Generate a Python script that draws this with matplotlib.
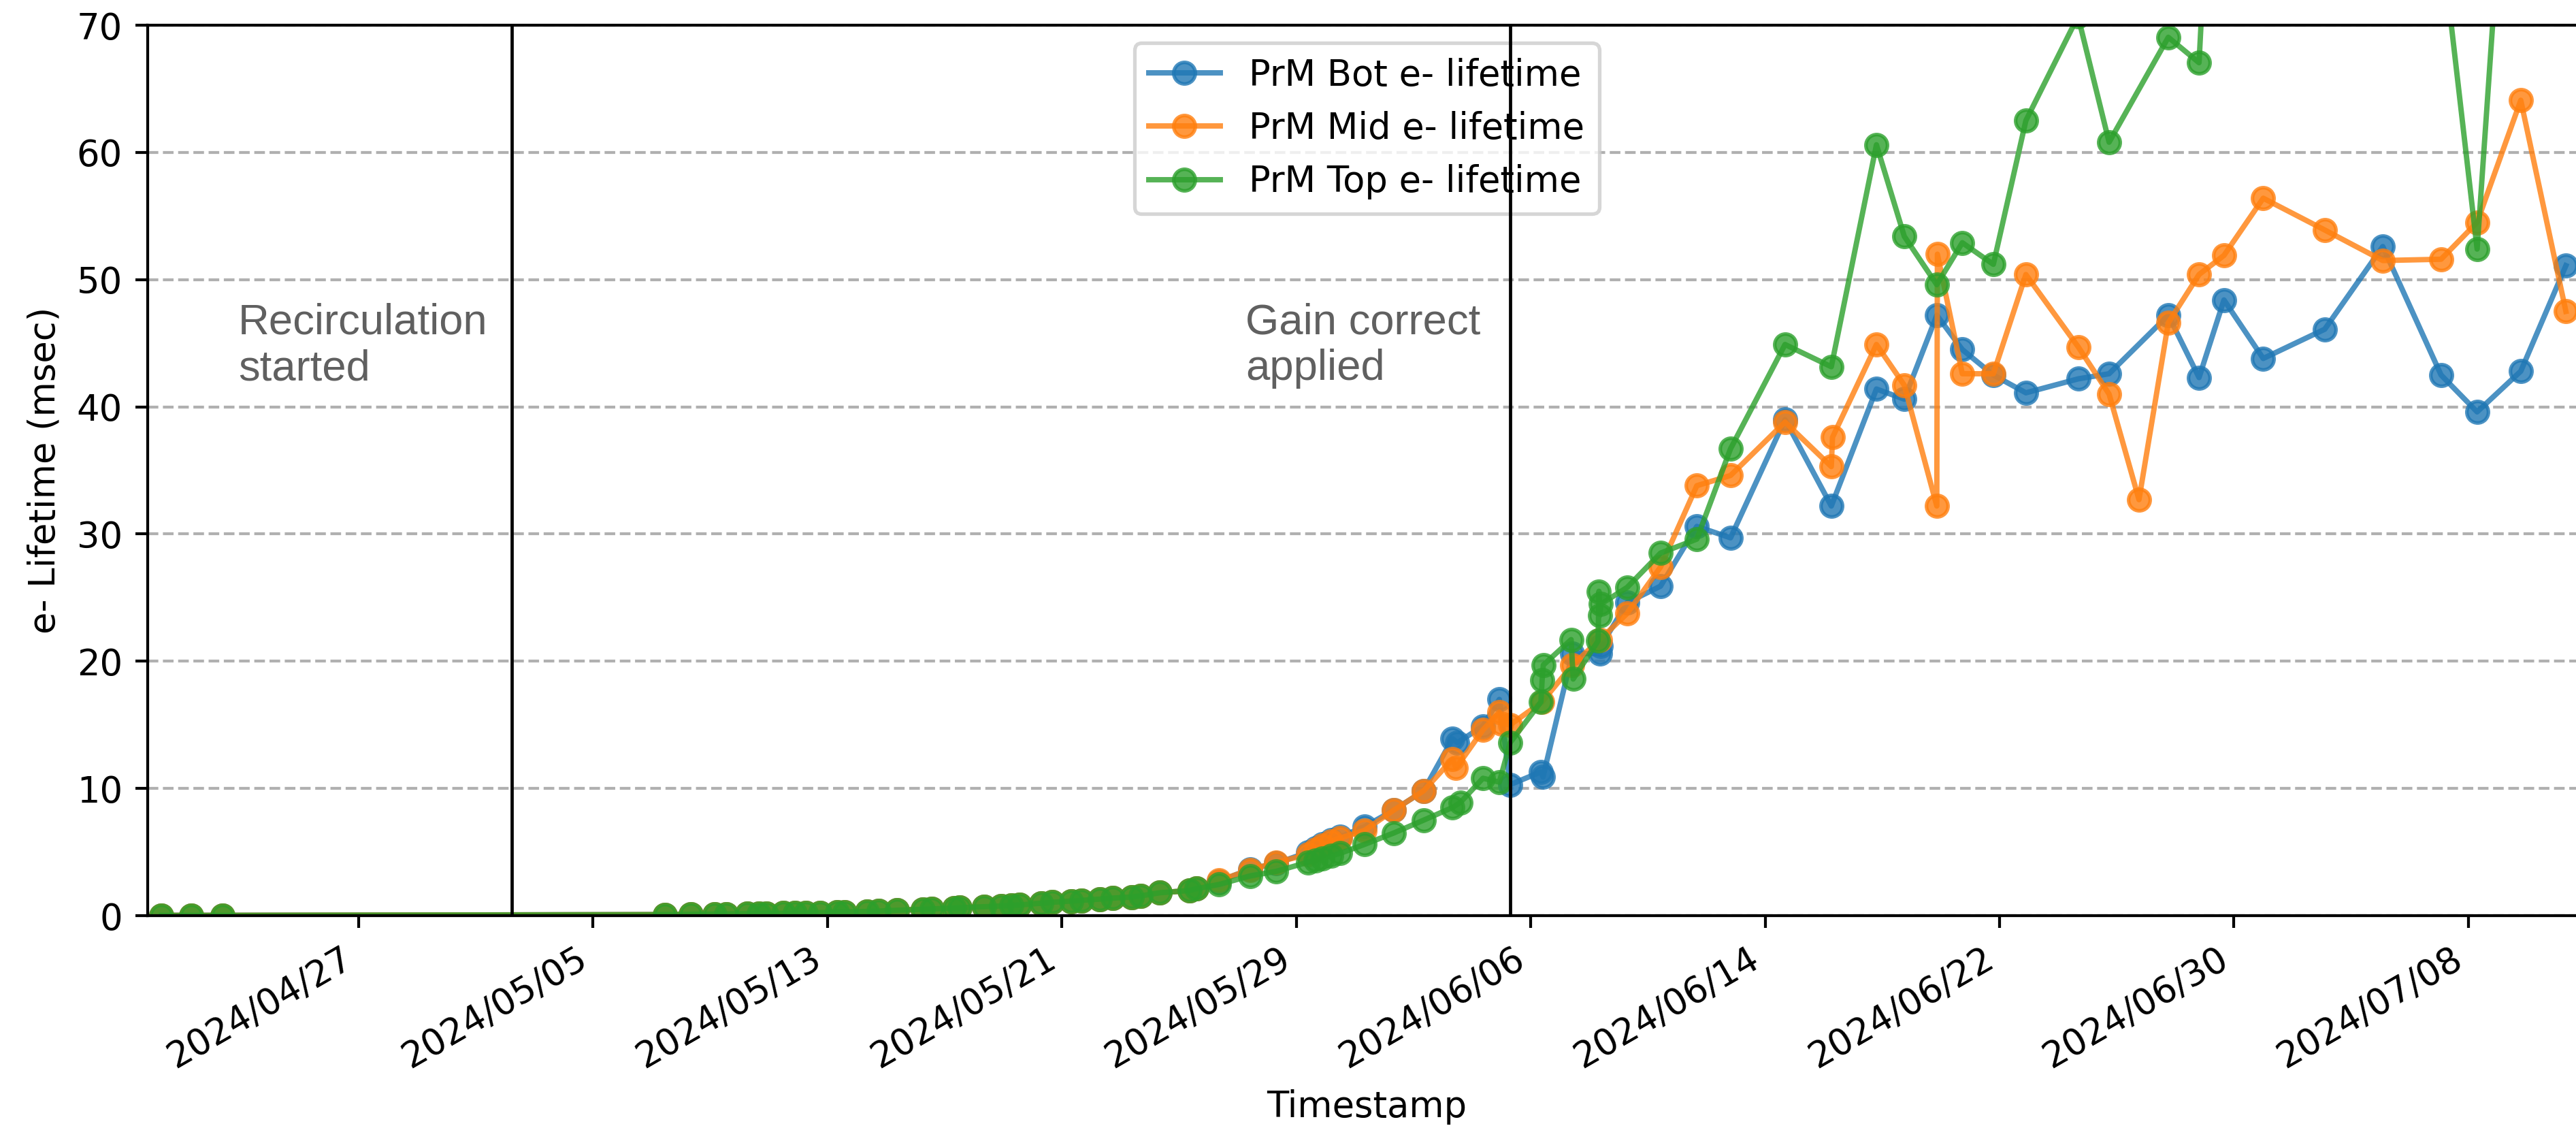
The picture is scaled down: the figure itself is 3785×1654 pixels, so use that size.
import pandas as pd
import matplotlib
matplotlib.use("Agg")
import matplotlib.pyplot as plt
import matplotlib.dates as mdates


# reference day; all times below are in days after it
t0 = pd.Timestamp("2024-04-27")

# points shared by the three monitors (all overlap near zero)
early_days = [-6.73, -5.72, -4.65, 10.45, 11.34, 12.15, 12.54, 13.26, 13.66, 13.91,
              14.49, 14.89, 15.26, 15.75, 16.33, 16.59, 17.35, 17.75, 18.37, 19.26,
              19.56, 20.33, 20.51, 21.35, 21.93, 22.28, 22.56, 23.3, 23.67, 24.32,
              24.67, 25.3, 25.74, 26.39, 26.69, 27.34, 28.35, 28.59]
early_vals = [0.02, 0.02, 0.02, 0.08, 0.1, 0.12, 0.13, 0.15, 0.16, 0.17,
              0.19, 0.2, 0.21, 0.24, 0.27, 0.29, 0.33, 0.36, 0.42, 0.5,
              0.53, 0.6, 0.62, 0.7, 0.76, 0.8, 0.84, 0.98, 1.05, 1.15,
              1.2, 1.3, 1.38, 1.47, 1.55, 1.8, 1.97, 2.12]

bot_days = [29.36, 30.42, 31.31, 32.4, 32.65, 32.9, 33.2, 33.5, 34.33, 35.33,
            36.34, 37.33, 37.5, 38.37, 38.93, 39.3, 40.35, 40.42, 41.42, 42.36,
            42.4, 43.29, 44.43, 45.67, 46.82, 48.68, 50.26, 51.8, 52.75, 53.86,
            54.73, 55.79, 56.9, 58.69, 59.74, 61.76, 62.81, 63.66, 65.0, 67.1,
            69.08, 71.07, 72.3, 73.79, 75.33]
bot_vals = [2.7, 3.66, 4.1, 4.99, 5.3, 5.6, 5.95, 6.2, 7.0, 8.3,
            9.8, 13.9, 13.6, 14.9, 17.0, 10.3, 11.3, 10.9, 20.6, 20.6,
            21.2, 24.6, 25.9, 30.6, 29.7, 39.0, 32.2, 41.4, 40.6, 47.2,
            44.5, 42.5, 41.1, 42.2, 42.6, 47.2, 42.3, 48.4, 43.8, 46.1,
            52.6, 42.5, 39.6, 42.8, 51.1]

mid_days = [29.36, 30.42, 31.31, 32.4, 32.65, 32.9, 33.2, 33.5, 34.33, 35.33,
            36.34, 37.33, 37.45, 38.37, 38.93, 39.0, 39.3, 40.39, 41.42, 42.36,
            43.29, 44.43, 45.67, 46.82, 48.68, 50.26, 50.3, 51.8, 52.75, 53.86,
            53.88, 54.73, 55.79, 56.9, 58.69, 59.74, 60.76, 61.76, 62.81, 63.66,
            65.0, 67.1, 69.08, 71.07, 72.3, 73.79, 75.33]
mid_vals = [2.76, 3.6, 4.19, 4.8, 5.2, 5.5, 5.85, 6.1, 6.7, 8.3,
            9.8, 12.3, 11.6, 14.6, 16.0, 15.1, 15.0, 16.8, 19.7, 21.7,
            23.75, 27.4, 33.8, 34.6, 38.8, 35.3, 37.6, 44.9, 41.7, 32.2,
            52.0, 42.6, 42.6, 50.4, 44.7, 41.0, 32.7, 46.6, 50.4, 51.9,
            56.4, 53.9, 51.5, 51.6, 54.5, 64.1, 47.5]

top_days = [29.36, 30.42, 31.31, 32.4, 32.65, 32.9, 33.2, 33.5, 34.33, 35.33,
            36.34, 37.33, 37.6, 38.37, 38.93, 39.3, 40.35, 40.39, 40.43, 41.38,
            41.45, 42.3, 42.33, 42.36, 42.4, 43.29, 44.43, 45.67, 46.82, 48.68,
            50.26, 51.8, 52.75, 53.86, 54.73, 55.79, 56.9, 58.68, 59.74, 61.76,
            62.81, 63.66, 65.0, 67.1, 69.08, 71.07, 72.3, 73.79, 75.33]
top_vals = [2.45, 3.12, 3.48, 4.2, 4.35, 4.5, 4.7, 4.9, 5.6, 6.5,
            7.5, 8.5, 8.9, 10.8, 10.5, 13.6, 16.8, 18.5, 19.7, 21.7,
            18.6, 21.6, 25.5, 23.6, 24.5, 25.8, 28.5, 29.6, 36.7, 44.9,
            43.15, 60.6, 53.4, 49.6, 52.9, 51.2, 62.5, 70.7, 60.8, 69.05,
            67.05, 105.0, 92.0, 88.0, 95.0, 77.0, 52.4, 102.0, 95.0]

labels = ["PrM Bot e- lifetime", "PrM Mid e- lifetime", "PrM Top e- lifetime"]

recirc_day = 5.23
gain_day = 39.3


def to_dates(days):
    return t0 + pd.to_timedelta(days, unit="D")


def main() -> None:
    fig = plt.figure(figsize=(3785 / 380, 1654 / 380), dpi=380)
    ax = fig.add_axes([217 / 3785, 1 - 1345 / 1654, (3799 - 217) / 3785, (1345 - 37) / 1654])

    series = [(bot_days, bot_vals), (mid_days, mid_vals), (top_days, top_vals)]
    for (days, vals), label in zip(series, labels):
        x = to_dates(early_days + days)
        y = early_vals + vals
        ax.plot(x, y, marker="o", markersize=6, linewidth=1.5, alpha=0.8, label=label)

    # events
    for d in [recirc_day, gain_day]:
        ax.axvline(to_dates([d])[0], color="black", linewidth=0.9, zorder=6)
    txt_font = dict(fontsize=12, family=["Liberation Sans", "DejaVu Sans"], color="#606060", va="baseline")
    ax.text(to_dates([-4.11])[0], 42.1, "Recirculation\nstarted", **txt_font)
    ax.text(to_dates([30.27])[0], 42.1, "Gain correct\napplied", **txt_font)

    ax.set_xlim(to_dates([-7.2])[0], to_dates([76.0])[0])
    ax.set_ylim(0, 70)
    ax.set_xticks(pd.date_range("2024-04-27", periods=10, freq="8D"))
    ax.xaxis.set_major_formatter(mdates.DateFormatter("%Y/%m/%d"))
    for lbl in ax.get_xticklabels():
        lbl.set_rotation(30)
        lbl.set_ha("right")

    ax.yaxis.grid(True, linestyle="--")
    ax.set_xlabel("Timestamp")
    ax.set_ylabel("e- Lifetime (msec)")
    ax.legend(loc="upper center")

    fig.savefig("out.png", dpi=380)


if __name__ == "__main__":
    main()
